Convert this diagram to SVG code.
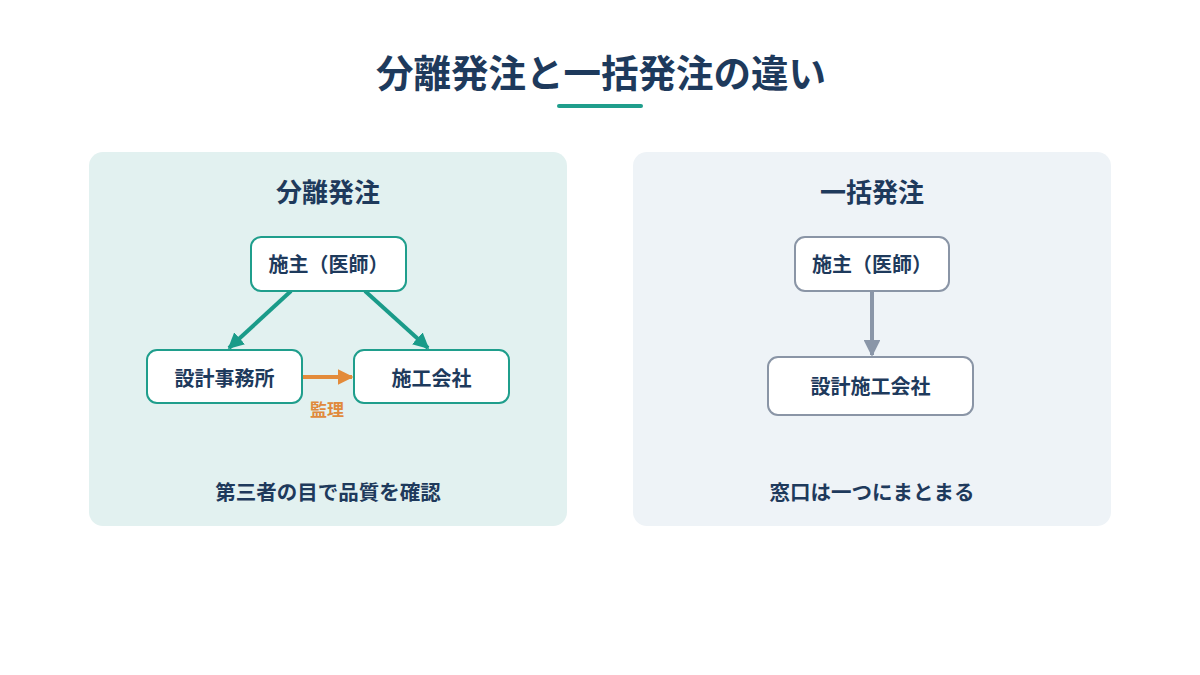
<svg xmlns="http://www.w3.org/2000/svg" width="1200" height="675" viewBox="0 0 1200 675">
<style>
text{font-family:"Noto Sans CJK JP","Noto Sans",sans-serif;font-weight:700;fill:#1e3a5c;text-anchor:middle}
.title{font-size:37.500px}
.ptitle{font-size:26px}
.node{font-size:20px}
.note{font-size:20.500px}
.teal{fill:#fff;stroke:#1f9e8c;stroke-width:2}
.gray{fill:#fff;stroke:#8a95a6;stroke-width:2}
.lbl{font-size:17px;fill:#e08a3c}
</style>
<defs>
<marker id="aT" viewBox="0 0 10 10" refX="9" refY="5" markerWidth="4" markerHeight="4" orient="auto" markerUnits="strokeWidth"><path d="M0,0L10,5L0,10z" fill="#1a9b89"/></marker>
<marker id="aO" viewBox="0 0 10 10" refX="9" refY="5" markerWidth="4" markerHeight="4" orient="auto" markerUnits="strokeWidth"><path d="M0,0L10,5L0,10z" fill="#e38b3a"/></marker>
<marker id="aG" viewBox="0 0 10 10" refX="9" refY="5" markerWidth="4.200" markerHeight="4.200" orient="auto" markerUnits="strokeWidth"><path d="M0,0L10,5L0,10z" fill="#8a96a8"/></marker>
</defs>
<rect width="1200" height="675" fill="#ffffff"/>
<g id="header">
<text class="title" x="601" y="87">分離発注と一括発注の違い</text>
<rect x="557" y="104" width="86" height="4" rx="2" fill="#1f9e8c"/>
</g>
<g id="panel-left">
<rect x="89" y="152" width="478" height="374" rx="14" fill="#e2f1f0"/>
<text class="ptitle" x="328" y="202">分離発注</text>
<text class="note" x="328" y="500">第三者の目で品質を確認</text>
</g>
<g id="panel-right">
<rect x="633" y="152" width="478" height="374" rx="14" fill="#eef3f7"/>
<text class="ptitle" x="872" y="202">一括発注</text>
<text class="note" x="872" y="500">窓口は一つにまとまる</text>
</g>
<g id="connectors">
<line x1="291" y1="291" x2="229" y2="348" stroke="#1a9b89" stroke-width="4" marker-end="url(#aT)"/>
<line x1="365" y1="291" x2="428" y2="348" stroke="#1a9b89" stroke-width="4" marker-end="url(#aT)"/>
<line x1="302" y1="377" x2="352" y2="377" stroke="#e38b3a" stroke-width="4" marker-end="url(#aO)"/>
<text class="lbl" x="327" y="416">監理</text>
<line x1="872" y1="291" x2="872" y2="355" stroke="#8a96a8" stroke-width="4" marker-end="url(#aG)"/>
</g>
<g id="node-owner-left">
<rect class="teal" x="251" y="237" width="155" height="54" rx="10"/>
<text class="node" x="328.500" y="272">施主（医師）</text>
</g>
<g id="node-design">
<rect class="teal" x="147" y="350" width="155" height="53" rx="10"/>
<text class="node" x="224.500" y="386">設計事務所</text>
</g>
<g id="node-construct">
<rect class="teal" x="354" y="350" width="155" height="53" rx="10"/>
<text class="node" x="431.500" y="386">施工会社</text>
</g>
<g id="node-owner-right">
<rect class="gray" x="795" y="237" width="154" height="54" rx="10"/>
<text class="node" x="872" y="272">施主（医師）</text>
</g>
<g id="node-designbuild">
<rect class="gray" x="768" y="357" width="205" height="58" rx="10"/>
<text class="node" x="870.500" y="394">設計施工会社</text>
</g>
</svg>
